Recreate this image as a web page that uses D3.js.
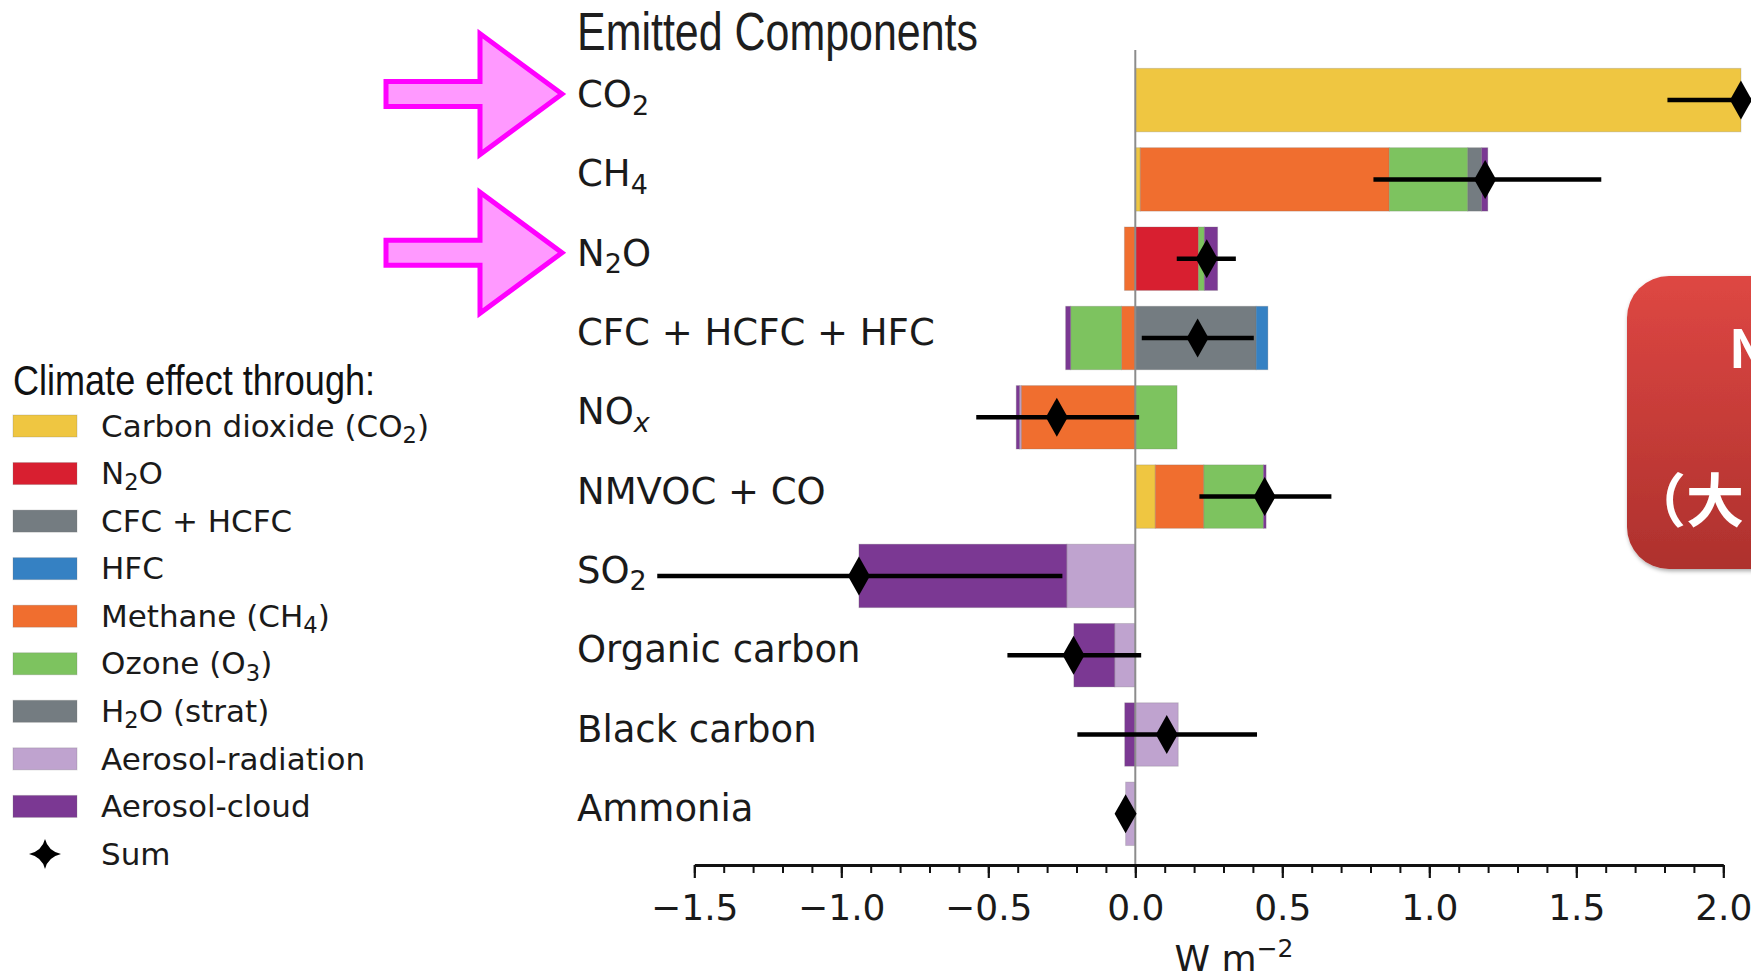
<!DOCTYPE html>
<html><head><meta charset="utf-8">
<script src="https://cdn.jsdelivr.net/npm/d3@7"></script>
<style>
html,body{margin:0;padding:0;background:#fff;overflow:hidden;}
svg{display:block;}
</style></head><body>
<svg id="chart" width="1751" height="979"></svg>
<script>
// ---------------- DATA ----------------
const categories = ["CO_{2}","CH_{4}","N_{2}O","CFC + HCFC + HFC","NO_{*x}","NMVOC + CO","SO_{2}","Organic carbon","Black carbon","Ammonia"];
// contribution of each climate effect per emitted component (W m-2), in stacking order
const effectCO2    = [2.060, 0.017, 0, 0, 0, 0.068, 0, 0, 0, 0];
const effectN2O    = [0, 0, 0.215, 0, 0, 0, 0, 0, 0, 0];
const effectCFC    = [0, 0, 0, 0.411, 0, 0, 0, 0, 0, 0];
const effectHFC    = [0, 0, 0, 0.040, 0, 0, 0, 0, 0, 0];
const effectCH4    = [0, 0.847, -0.037, -0.047, -0.388, 0.165, 0, 0, 0, 0];
const effectO3     = [0, 0.267, 0.020, -0.173, 0.142, 0.203, 0, 0, 0, 0];
const effectH2O    = [0, 0.047, 0, 0, 0, 0, 0, 0, 0, 0];
const effectAerRad = [0, 0, 0, 0, -0.006, 0, -0.233, -0.070, 0.146, -0.033];
const effectAerCld = [0, 0.021, 0.045, -0.017, -0.011, 0.009, -0.707, -0.139, -0.036, 0];
const sumValues = [2.06, 1.19, 0.243, 0.212, -0.267, 0.44, -0.94, -0.21, 0.107, -0.033];
const errLow    = [1.81, 0.81, 0.141, 0.022, -0.541, 0.218, -1.626, -0.435, -0.197, -0.045];
const errHigh   = [2.31, 1.585, 0.342, 0.403, 0.013, 0.667, -0.248, 0.02, 0.414, -0.022];
const effectLabels = ["Carbon dioxide (CO_{2})","N_{2}O","CFC + HCFC","HFC","Methane (CH_{4})","Ozone (O_{3})","H_{2}O (strat)","Aerosol-radiation","Aerosol-cloud"];
const sumLabel = "Sum";
const xMajorTicks = [-1.5, -1.0, -0.5, 0.0, 0.5, 1.0, 1.5, 2.0];
const xDomain = [-1.5, 2.0];
const chartTitle = "Emitted Components";
const legendTitle = "Climate effect through:";
const axisLabel = "W m";
const axisLabelSup = "−2";
const highlighted = ["CO_{2}", "N_{2}O"];
const boxLine1 = "N";
const boxLine2 = "（大";

// ---------------- STYLE ----------------
const effectColors = ["#efc641","#d81f30","#747c81","#3581c3","#f06e2f","#7dc35f","#747c81","#bfa3cf","#7b3893"];
const effects = [effectCO2, effectN2O, effectCFC, effectHFC, effectCH4, effectO3, effectH2O, effectAerRad, effectAerCld];
const FONT = "'DejaVu Sans', sans-serif";
const ARIAL = "'Liberation Sans', Arial, sans-serif";

const svg = d3.select("#chart");

const x = d3.scaleLinear().domain(xDomain).range([694.3, 1723.3]);
const y = d3.scaleBand().domain(categories).range([60.45, 853.45]).paddingInner(0.2).paddingOuter(0.1);
const axisY = 865;

function rich(sel, str, base) {
  const parts = str.split(/(_\{[^}]*\})/).filter(s => s.length);
  let shifted = 0;
  parts.forEach(p => {
    if (p.startsWith("_{")) {
      let t = p.slice(2, -1), it = false;
      if (t[0] === "*") { it = true; t = t.slice(1); }
      const d = base * 0.2;
      sel.append("tspan").attr("font-size", base * 0.73).attr("dy", d - shifted)
        .attr("font-style", it ? "italic" : null).text(t);
      shifted = d;
    } else {
      sel.append("tspan").attr("dy", shifted ? -shifted : null).text(p);
      shifted = 0;
    }
  });
}

// ---------------- TITLE ----------------
svg.append("text").attr("x", 577).attr("y", 50)
  .attr("font-family", ARIAL).attr("font-size", 53).attr("fill", "#1e1e1e")
  .attr("textLength", 401).attr("lengthAdjust", "spacingAndGlyphs").text(chartTitle);

// ---------------- BARS ----------------
const barG = svg.append("g");
categories.forEach((c, i) => {
  let pos = 0, neg = 0;
  effects.forEach((arr, k) => {
    const v = arr[i];
    if (!v) return;
    let a, b;
    if (v > 0) { a = pos; b = pos + v; pos = b; } else { a = neg + v; b = neg; neg = a; }
    barG.append("rect")
      .attr("x", x(a)).attr("width", x(b) - x(a))
      .attr("y", y(c)).attr("height", y.bandwidth())
      .attr("fill", effectColors[k])
      .attr("stroke", "rgba(110,110,110,0.25)").attr("stroke-width", 1);
  });
});

// zero line
svg.append("line").attr("x1", x(0)).attr("x2", x(0)).attr("y1", 50).attr("y2", axisY)
  .attr("stroke", "#8c8c8c").attr("stroke-width", 2);

// error bars
svg.append("g").selectAll("line").data(categories).join("line")
  .attr("x1", (c, i) => x(errLow[i])).attr("x2", (c, i) => x(errHigh[i]))
  .attr("y1", c => y(c) + y.bandwidth() / 2).attr("y2", c => y(c) + y.bandwidth() / 2)
  .attr("stroke", "#000").attr("stroke-width", 4.5);

// sum diamonds
const diamond = "M0,-19.5L11,0L0,19.5L-11,0Z";
svg.append("g").selectAll("path").data(categories).join("path")
  .attr("d", diamond)
  .attr("transform", (c, i) => `translate(${x(sumValues[i])},${y(c) + y.bandwidth() / 2})`)
  .attr("fill", "#000");

// category labels
categories.forEach(c => {
  const t = svg.append("text").attr("x", 577).attr("y", y(c) + y.bandwidth() / 2 + 7)
    .attr("font-family", FONT).attr("font-size", 37).attr("fill", "#1a1a1a");
  rich(t, c, 37);
});

// ---------------- AXIS ----------------
const minorAxis = d3.axisBottom(x).tickValues(x.ticks(35)).tickSize(8).tickSizeOuter(0).tickFormat("");
const majorAxis = d3.axisBottom(x).tickValues(xMajorTicks).tickSize(13).tickSizeOuter(0)
  .tickFormat(d3.format(".1f"));
const gMinor = svg.append("g").attr("transform", `translate(0,${axisY})`).call(minorAxis);
gMinor.select(".domain").remove();
gMinor.selectAll(".tick line").attr("stroke", "#111").attr("stroke-width", 2);
const gMajor = svg.append("g").attr("transform", `translate(0,${axisY})`).call(majorAxis);
gMajor.select(".domain").attr("stroke", "#111").attr("stroke-width", 2.8);
gMajor.selectAll(".tick line").attr("stroke", "#111").attr("stroke-width", 2.2);
gMajor.selectAll(".tick text").attr("y", 55).attr("dy", 0)
  .attr("font-family", FONT).attr("font-size", 36).attr("fill", "#1a1a1a");

const al = svg.append("text").attr("x", 1234).attr("y", 971).attr("text-anchor", "middle")
  .attr("font-family", FONT).attr("font-size", 36).attr("fill", "#1a1a1a");
al.append("tspan").text(axisLabel);
al.append("tspan").attr("font-size", 25).attr("dy", -14).text(axisLabelSup);

// ---------------- LEGEND ----------------
svg.append("text").attr("x", 13).attr("y", 395)
  .attr("font-family", ARIAL).attr("font-size", 42).attr("fill", "#111")
  .attr("textLength", 362).attr("lengthAdjust", "spacingAndGlyphs").text(legendTitle);
const legY = i => 426 + i * 47.55;
effectLabels.forEach((lab, i) => {
  svg.append("rect").attr("x", 13).attr("y", legY(i) - 11).attr("width", 64).attr("height", 22)
    .attr("fill", effectColors[i]).attr("stroke", "rgba(110,110,110,0.25)").attr("stroke-width", 1);
  const t = svg.append("text").attr("x", 101).attr("y", legY(i) + 10.7)
    .attr("font-family", FONT).attr("font-size", 31).attr("fill", "#1a1a1a");
  rich(t, lab, 31);
});
const sy = legY(effectLabels.length);
svg.append("path")
  .attr("d", "M0,-15Q3,-3 16,0Q3,3 0,15Q-3,3 -16,0Q-3,-3 0,-15Z")
  .attr("transform", `translate(45,${sy})`).attr("fill", "#000");
svg.append("text").attr("x", 101).attr("y", sy + 10.7)
  .attr("font-family", FONT).attr("font-size", 31).attr("fill", "#1a1a1a").text(sumLabel);

// ---------------- ANNOTATIONS ----------------
highlighted.forEach(c => {
  const cy = y(c) + y.bandwidth() / 2 - 6;
  const pts = [[386, cy - 12.5], [480, cy - 12.5], [480, cy - 60.5], [562, cy], [480, cy + 60.5], [480, cy + 12.5], [386, cy + 12.5]];
  svg.append("path").attr("d", "M" + pts.map(p => p.join(",")).join("L") + "Z")
    .attr("fill", "#ff99ff").attr("stroke", "#ff00ff").attr("stroke-width", 5).attr("stroke-linejoin", "miter");
});

const defs = svg.append("defs");
const grad = defs.append("linearGradient").attr("id", "redg").attr("x1", 0).attr("y1", 0).attr("x2", 0).attr("y2", 1);
grad.append("stop").attr("offset", "0%").attr("stop-color", "#de4743");
grad.append("stop").attr("offset", "100%").attr("stop-color", "#ae312d");
const flt = defs.append("filter").attr("id", "shadow").attr("x", "-10%").attr("y", "-10%").attr("width", "130%").attr("height", "130%");
flt.append("feDropShadow").attr("dx", 1).attr("dy", 2).attr("stdDeviation", 2).attr("flood-color", "#000").attr("flood-opacity", 0.35);
svg.append("rect").attr("x", 1627).attr("y", 276).attr("width", 200).attr("height", 293).attr("rx", 42)
  .attr("fill", "url(#redg)").attr("filter", "url(#shadow)");
svg.append("text").attr("x", 1729).attr("y", 368).attr("font-family", "'Noto Sans CJK JP', sans-serif")
  .attr("font-weight", "bold").attr("font-size", 52).attr("fill", "#fff").text(boxLine1);
svg.append("text").attr("x", 1628).attr("y", 522).attr("font-family", "'Noto Sans CJK JP', sans-serif")
  .attr("font-weight", "bold").attr("font-size", 58).attr("fill", "#fff").text(boxLine2);
</script>
</body></html>
